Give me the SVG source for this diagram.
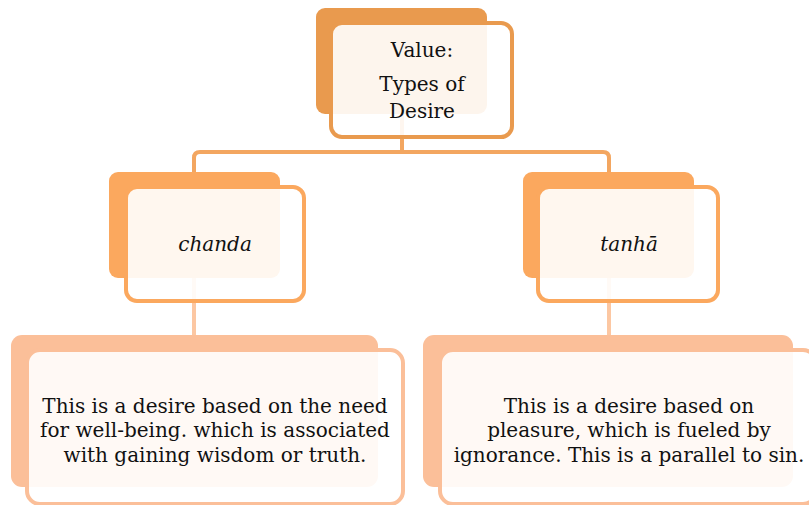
<svg xmlns="http://www.w3.org/2000/svg" width="809" height="505" viewBox="0 0 809 505">
<style>
.back{stroke:none}
.front{fill:#ffffff;fill-opacity:0.9;stroke-width:4}
.t{font-family:"DejaVu Serif","Liberation Serif",serif;font-size:20px;fill:#111111;text-anchor:middle}
.i{font-style:italic}
.c1{fill:none;stroke:#F3A660;stroke-width:4}
.c2{fill:none;stroke:#FCC7A2;stroke-width:4}
</style>
<rect width="809" height="505" fill="#ffffff"/>
<g id="connectors">
<path class="c1" d="M402,114 V152"/>
<path class="c1" d="M194,172 V158 Q194,152 200,152 H603 Q609,152 609,158 V172"/>
<path class="c2" d="M194,278 V335"/>
<path class="c2" d="M609,278 V335"/>
</g>
<g id="node-top">
<rect class="back" x="316" y="8" width="171" height="106" rx="9" fill="#E99A4E"/>
<rect class="front" x="331" y="23" width="181" height="114" rx="11" stroke="#E99A4E"/>
<text class="t" x="422" y="57">Value:</text>
<text class="t" x="422" y="91">Types of</text>
<text class="t" x="422" y="118">Desire</text>
</g>
<g id="node-chanda">
<rect class="back" x="109" y="172" width="171" height="106" rx="9" fill="#FBA85E"/>
<rect class="front" x="126" y="187" width="178" height="114" rx="11" stroke="#FBA85E"/>
<text class="t i" x="215" y="251">chanda</text>
</g>
<g id="node-tanha">
<rect class="back" x="523" y="172" width="171" height="106" rx="9" fill="#FBA85E"/>
<rect class="front" x="538" y="187" width="180" height="114" rx="11" stroke="#FBA85E"/>
<text class="t i" x="629" y="251">tanhā</text>
</g>
<g id="node-chanda-desc">
<rect class="back" x="11" y="335" width="367" height="152" rx="11" fill="#FBBF99"/>
<rect class="front" x="27" y="350" width="376" height="154" rx="13" stroke="#FBBF99"/>
<text class="t" x="215" y="413">This is a desire based on the need</text>
<text class="t" x="215" y="437">for well-being. which is associated</text>
<text class="t" x="215" y="462">with gaining wisdom or truth.</text>
</g>
<g id="node-tanha-desc">
<rect class="back" x="423" y="335" width="370" height="152" rx="11" fill="#FBBF99"/>
<rect class="front" x="440" y="350" width="376" height="154" rx="13" stroke="#FBBF99"/>
<text class="t" x="629" y="413">This is a desire based on</text>
<text class="t" x="629" y="437">pleasure, which is fueled by</text>
<text class="t" x="629" y="462">ignorance. This is a parallel to sin.</text>
</g>
</svg>
